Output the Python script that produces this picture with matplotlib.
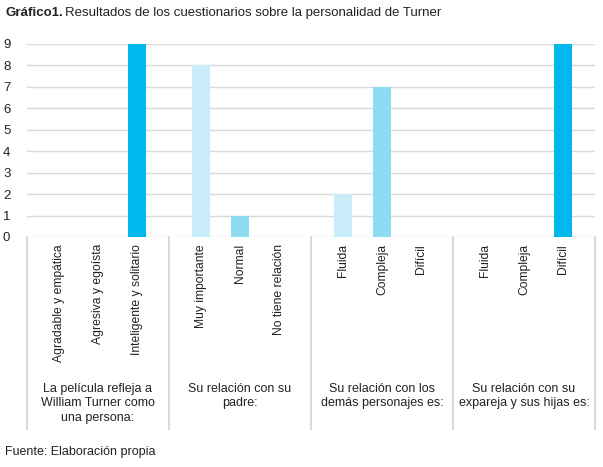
import matplotlib
matplotlib.use("Agg")
import matplotlib.pyplot as plt
from matplotlib.lines import Line2D

plt.rcParams["font.family"] = ["Liberation Sans", "DejaVu Sans"]

# data
groups = [
    "La película refleja a\nWilliam Turner como\nuna persona:",
    "Su relación con su\npadre:",
    "Su relación con los\ndemás personajes es:",
    "Su relación con su\nexpareja y sus hijas es:",
]
answers = [
    ["Agradable y empática", "Agresiva y egoísta", "Inteligente y solitario"],
    ["Muy importante", "Normal", "No tiene relación"],
    ["Fluida", "Compleja", "Difícil"],
    ["Fluida", "Compleja", "Difícil"],
]
counts = [
    [0, 0, 9],
    [8, 1, 0],
    [2, 7, 0],
    [0, 0, 9],
]
shades = ["#c9eefa", "#8edcf4", "#00b8ee"]

grid_col = "#d9d9d9"
text_col = "#222222"
group_w = 3.65

fig = plt.figure(figsize=(6.03, 4.67), dpi=100)
ax = fig.add_axes([27 / 603, 1 - 237 / 467, 568 / 603, 193 / 467])

xs, labels = [], []
for g, (ans, vals) in enumerate(zip(answers, counts)):
    center = (g + 0.5) * group_w
    for i, (a, v) in enumerate(zip(ans, vals)):
        x = center + (i - 1)
        xs.append(x)
        labels.append(a)
        ax.bar(x, v, width=0.47, color=shades[i], zorder=3)

ax.set_xlim(0, group_w * len(groups))
ax.set_ylim(0, 9)
ax.set_yticks(range(10))
ax.yaxis.grid(True, color=grid_col, linewidth=1, zorder=0)
ax.set_xticks(xs)
ax.set_xticklabels(labels, rotation=90, fontsize=8.7, color=text_col)
ax.tick_params(axis="x", length=0, pad=5)
ax.tick_params(axis="y", length=0, pad=12, labelsize=9.5, labelcolor=text_col)
for s in ax.spines.values():
    s.set_visible(False)

# group dividers under the axis
for g in range(len(groups) + 1):
    ax.add_line(Line2D([g * group_w, g * group_w], [0, -192 / 193],
                       transform=ax.get_xaxis_transform(), color=grid_col,
                       linewidth=1.5, clip_on=False))
for g, name in enumerate(groups):
    ax.text((g + 0.5) * group_w, -146 / 193, name, transform=ax.get_xaxis_transform(),
            ha="center", va="top", fontsize=9, color=text_col, linespacing=1.25)

# title: bold prefix then normal text
t1 = fig.text(5 / 603, 1 - 13 / 467, "Gráfico1.", fontweight="bold", fontsize=9.5,
              va="center", color=text_col)
fig.canvas.draw()
bb = t1.get_window_extent(fig.canvas.get_renderer())
fig.text(bb.x1 / fig.bbox.width + 0.004, 1 - 13 / 467,
         "Resultados de los cuestionarios sobre la personalidad de Turner",
         fontsize=9.5, va="center", color=text_col)

fig.text(5 / 603, 1 - 452 / 467, "Fuente: Elaboración propia", fontsize=9,
         va="center", color=text_col)

fig.savefig("out.png", dpi=100)
